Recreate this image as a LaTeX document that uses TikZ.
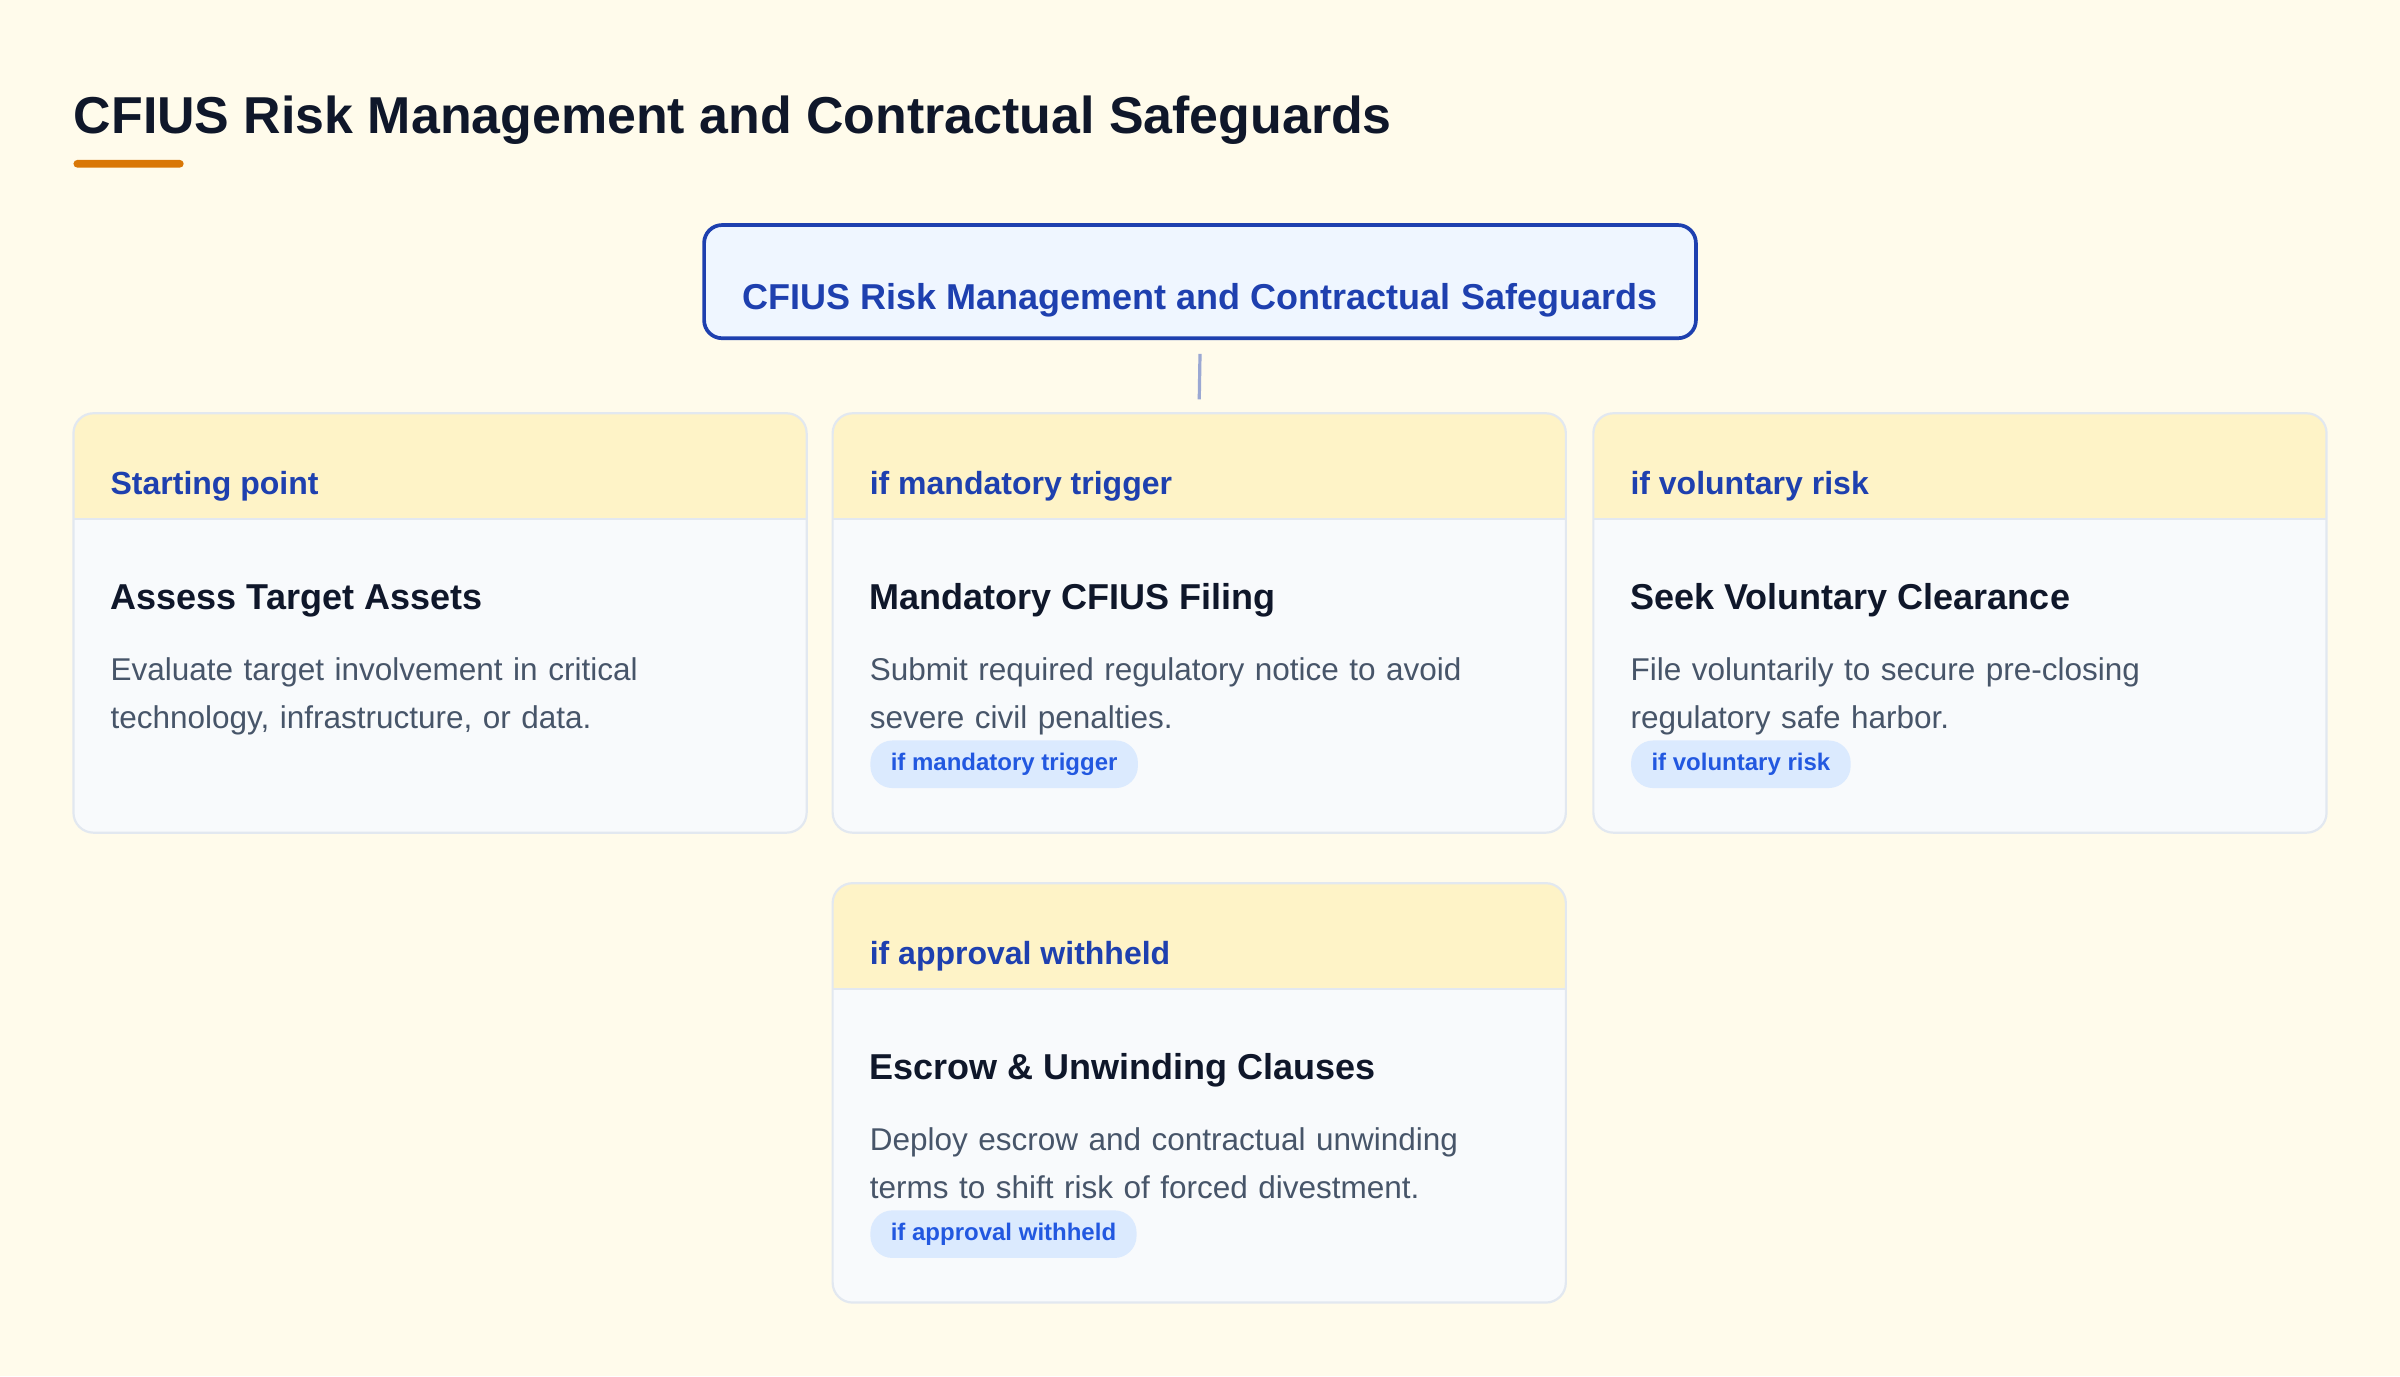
\documentclass[tikz,border=0pt]{standalone}
\usepackage{fontspec}
\setmainfont{Liberation Sans}
\definecolor{bg}{HTML}{FFFBEB}
\definecolor{hdrfill}{HTML}{FEF3C7}
\definecolor{bodyfill}{HTML}{F8FAFC}
\definecolor{cardline}{HTML}{E2E8F0}
\definecolor{blue8}{HTML}{1E40AF}
\definecolor{rootfill}{HTML}{EFF6FF}
\definecolor{ink}{HTML}{0F172A}
\definecolor{slate}{HTML}{475569}
\definecolor{badgefill}{HTML}{DBEAFE}
\definecolor{badgetext}{HTML}{2258E0}
\definecolor{accent}{HTML}{D97706}
\definecolor{conn}{HTML}{9BA8D3}
\tikzset{
  cardbody/.style={rectangle, fill=bodyfill, rounded corners=10pt, minimum width=366.6pt, minimum height=209.7pt, inner sep=0pt, outer sep=0pt},
  hdrtext/.style={anchor=base west, inner sep=0pt, text=blue8, font=\fontsize{16}{19}\selectfont\bfseries},
  cardtitle/.style={anchor=base west, inner sep=0pt, text=ink, font=\fontsize{18}{21}\selectfont\bfseries},
  carddesc/.style={anchor=base west, inner sep=0pt, text=slate, align=left, text width=340pt, font=\fontsize{15.75}{24.3}\selectfont},
  badge/.style={anchor=north west, fill=badgefill, text=badgetext, rounded corners=11pt, inner xsep=10.2pt, inner ysep=0pt, minimum height=23.8pt, font=\fontsize{12}{14}\selectfont\bfseries},
  connector/.style={draw=conn, line width=1.6pt},
}
\newcommand\mkcard[4]{%
  \node[cardbody] (#1) at ({#2+239.5},{#3+137}) {};
  \begin{scope}
    \clip[rounded corners=10pt] (#1.north west) rectangle (#1.south east);
    \fill[hdrfill] (#1.north west) rectangle ({#2+479},{#3+69});
  \end{scope}
  \draw[cardline, line width=1.1pt] ({#2},{#3+69}) -- ({#2+479},{#3+69});
  \draw[cardline, line width=1.1pt, rounded corners=10pt] (#1.north west) rectangle (#1.south east);
  \node[hdrtext] (#1h) at ({#2+24},{#3+53}) {#4};
}
\begin{document}
\begin{tikzpicture}[x=0.76531pt,y=-0.76531pt]
\useasboundingbox[fill=bg] (0,0) rectangle (1568,899);
% page title
\node[anchor=base west, inner sep=0pt, text=ink, font=\fontsize{25.95}{30}\selectfont\bfseries] (title) at (48,87.5) {CFIUS Risk Management and Contractual Safeguards};
\fill[accent, rounded corners=1.9pt] (48,104.5) rectangle (120,109.5);
% root
\node[draw=blue8, line width=1.85pt, fill=rootfill, rounded corners=9pt, minimum width=495.9pt, minimum height=56.6pt, inner sep=0pt] (root) at (784,184) {};
\node[anchor=base, inner sep=0pt, text=blue8, font=\fontsize{18}{21}\selectfont\bfseries] (roottxt) at (784,202.5) {CFIUS Risk Management and Contractual Safeguards};
% cards
\mkcard{c1}{48}{270}{Starting point}
\node[cardtitle] (c1t) at (72,398.5) {Assess Target Assets};
\node[carddesc] (c1d) at (72,444.5) {Evaluate target involvement in critical\\technology, infrastructure, or data.};

\mkcard{c2}{544}{270}{if mandatory trigger}
\node[cardtitle] (c2t) at (568,398.5) {Mandatory CFIUS Filing};
\node[carddesc] (c2d) at (568,444.5) {Submit required regulatory notice to avoid\\severe civil penalties.};
\node[badge] (c2b) at (568.4,483.5) {if mandatory trigger};

\mkcard{c3}{1041}{270}{if voluntary risk}
\node[cardtitle] (c3t) at (1065,398.5) {Seek Voluntary Clearance};
\node[carddesc] (c3d) at (1065,444.5) {File voluntarily to secure pre-closing\\regulatory safe harbor.};
\node[badge] (c3b) at (1065.4,483.5) {if voluntary risk};

\mkcard{c4}{544}{577}{if approval withheld}
\node[cardtitle] (c4t) at (568,705.5) {Escrow \& Unwinding Clauses};
\node[carddesc] (c4d) at (568,751.5) {Deploy escrow and contractual unwinding\\terms to shift risk of forced divestment.};
\node[badge] (c4b) at (568.4,790.5) {if approval withheld};
% connector
\draw[connector] ([yshift=-6.9pt]root.south) -- ([yshift=6.9pt]c2.north);
\end{tikzpicture}
\end{document}
